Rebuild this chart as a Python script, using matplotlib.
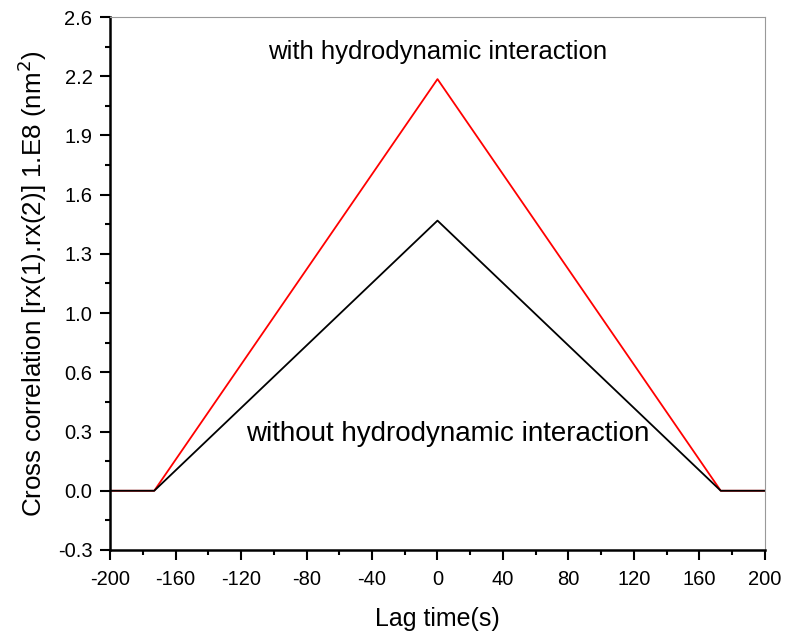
import matplotlib
matplotlib.use("Agg")
import matplotlib.pyplot as plt
import numpy as np
from matplotlib.ticker import MultipleLocator

plt.rcParams['font.family'] = ['Liberation Sans', 'DejaVu Sans']
plt.rcParams['axes.unicode_minus'] = False

# Cross correlation vs lag time
lag = [-200, -173, 0, 173, 200]
with_hi = [0.0, 0.0, 2.24, 0.0, 0.0]
without_hi = [0.0, 0.0, 1.47, 0.0, 0.0]

# y axis: ten evenly spaced ticks, labelled to one decimal
ystep = 2.9 / 9
yticks = np.arange(-1, 9) * ystep
ylabels = ['-0.3', '0.0', '0.3', '0.6', '1.0', '1.3', '1.6', '1.9', '2.2', '2.6']

fig = plt.figure(figsize=(7.87, 6.35), dpi=100)
ax = fig.add_axes([0.1398, 0.1339, 0.8322, 0.8393])

ax.plot(lag, with_hi, color='red', lw=1.3)
ax.plot(lag, without_hi, color='black', lw=1.3)

ax.set_xlim(-200, 200)
ax.set_ylim(yticks[0], yticks[-1])
ax.xaxis.set_major_locator(MultipleLocator(40))
ax.xaxis.set_minor_locator(MultipleLocator(20))
ax.set_yticks(yticks)
ax.set_yticklabels(ylabels)
ax.set_yticks((yticks[:-1] + yticks[1:]) / 2, minor=True)

ax.tick_params(which='major', direction='out', length=7.2, width=1.5, labelsize=14.5)
ax.tick_params(which='minor', direction='out', length=3.6, width=1.5)
ax.tick_params(axis='x', which='major', pad=7.5)
ax.tick_params(axis='y', which='major', pad=5.5)
ax.tick_params(top=False, right=False, which='both')

for side in ('left', 'bottom'):
    ax.spines[side].set_linewidth(1.8)
for side in ('top', 'right'):
    ax.spines[side].set_color('#999999')
    ax.spines[side].set_linewidth(0.8)

ax.set_xlabel('Lag time(s)', fontsize=18, labelpad=13)
ax.set_ylabel('Cross correlation [rx(1).rx(2)] 1.E8 (nm$^2$)', fontsize=18.7, labelpad=6)

ax.text(0, 2.39, 'with hydrodynamic interaction', fontsize=18.5, ha='center', va='center')
ax.text(6, 0.31, 'without hydrodynamic interaction', fontsize=20, ha='center', va='center')

fig.savefig('out.png', dpi=100)
